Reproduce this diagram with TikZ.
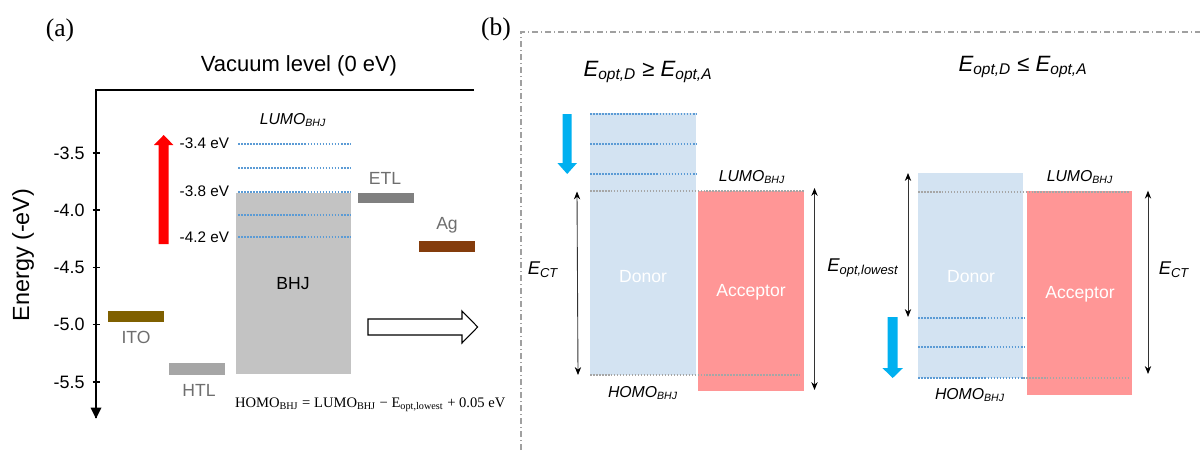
\documentclass[tikz,border=0pt]{standalone}
\usepackage{fontspec}
\setmainfont{Liberation Sans}
\newfontfamily\tnr{Liberation Serif}
\usetikzlibrary{arrows.meta}
\definecolor{lvlblue}{HTML}{5B9BD5}
\definecolor{lvlgrey}{HTML}{A6A6A6}
\definecolor{bhjgrey}{HTML}{C3C3C3}
\definecolor{etlgrey}{HTML}{808080}
\definecolor{htlgrey}{HTML}{A6A6A6}
\definecolor{agbrown}{HTML}{843C0C}
\definecolor{itoolive}{HTML}{7F6000}
\definecolor{cyanarr}{HTML}{00B0F0}
\definecolor{donorblue}{HTML}{D3E3F2}
\definecolor{accpink}{HTML}{FF9696}
\definecolor{labgrey}{HTML}{6E6E6E}
\definecolor{framegrey}{HTML}{A0A0A0}
\newcommand{\fsz}[1]{\fontsize{#1}{#1}\selectfont}
\newcommand{\sbs}[1]{\textsubscript{#1}}
\tikzset{
  bdot/.style={lvlblue, line width=1.14pt, dash pattern=on 1.0pt off 0.72pt},
  gdot/.style={lvlgrey, line width=0.9pt, dash pattern=on 0.9pt off 0.8pt},
  dbl/.style={black!80, line width=0.5pt, {Stealth[length=4.5pt,width=3.6pt,black]}-{Stealth[length=4.5pt,width=3.6pt,black]}},
  ticklab/.style={anchor=east, font=\fsz{10.2}},
  evlab/.style={anchor=east, font=\fsz{8.7}},
  layerlab/.style={text=labgrey, font=\fsz{10}},
  whitelab/.style={text=white, font=\fsz{10}},
  lumolab/.style={font=\fsz{9}\itshape},
  elab/.style={font=\fsz{10.5}\itshape},
  titlelab/.style={font=\fsz{12.6}\itshape},
}
\begin{document}
\begin{tikzpicture}[x=0.02cm,y=-0.02cm, every node/.style={inner sep=0pt,outer sep=0pt}]
\useasboundingbox (0,0) rectangle (1200,450);

% ---------------- panel (a) ----------------
\node[font=\tnr\fsz{14.5}] (la) at (60,30) {(a)};
\node[font=\fsz{12.5}] (vac) at (299,66) {Vacuum level (0 eV)};

% axes
\coordinate (axtop) at (96,90);
\coordinate (axright) at (474,90);
\coordinate (axbot) at (96,418);
\draw[line width=0.6pt] (axright) -- (axtop) -- (axbot);
\fill (90.5,407.5) -- (101.5,407.5) -- (96,418.5) -- cycle;
\foreach \yy/\lab in {153/-3.5,210/-4.0,267.5/-4.5,324.5/-5.0,382/-5.5}{
  \draw[line width=0.6pt] (92.5,\yy) -- (100,\yy);
  \node[ticklab] at (84.5,\yy) {\lab};
}
\node[rotate=90, font=\fsz{13.3}] (ylab) at (23,255) {Energy (-eV)};

% BHJ
\fill[bhjgrey] (236,193) rectangle (351,374);
\node[font=\fsz{10}] (bhj) at (293,284) {BHJ};
\foreach \yy in {144,168,192,215,237}{
  \draw[bdot] (238,\yy) -- (351,\yy);
}
\node[lumolab] (lumoa) at (293,120) {LUMO\sbs{BHJ}};
\node[evlab] (ev34) at (229,143) {-3.4 eV};
\node[evlab] (ev38) at (229,191) {-3.8 eV};
\node[evlab] (ev42) at (229,237) {-4.2 eV};

% red arrow
\fill[red] (158.7,244) -- (158.7,145) -- (154,145) -- (163.7,135) -- (173.4,145) -- (168.7,145) -- (168.7,244) -- cycle;

% layers
\fill[itoolive] (108,310.7) rectangle (164,321.7);
\node[layerlab] (ito) at (136,337) {ITO};
\fill[htlgrey] (169,362.7) rectangle (225,375);
\node[layerlab] (htl) at (199,390) {HTL};
\fill[etlgrey] (358,193) rectangle (414,203);
\node[layerlab] (etl) at (385,178) {ETL};
\fill[agbrown] (419,241) rectangle (475,252);
\node[layerlab] (ag) at (447,225) {Ag};

% formula
\node[anchor=west, font=\tnr\fsz{8.3}] (formula) at (235,405)
  {HOMO\sbs{BHJ} = LUMO\sbs{BHJ} − E\sbs{opt,lowest} + 0.05 eV};

% hollow arrow
\draw[fill=white, line width=0.6pt] (368,319) -- (462,319) -- (462,311) -- (477.7,327) -- (462,343) -- (462,335) -- (368,335) -- cycle;

% ---------------- panel (b) ----------------
\node[font=\tnr\fsz{14.5}] (lb) at (496,29) {(b)};
\draw[framegrey, line width=0.6pt, dash pattern=on 3.4pt off 1.7pt on 0.6pt off 1.7pt] (521,450) -- (521,32) -- (1200,32);

% left diagram
\node[titlelab] (t1) at (648,72) {E\sbs{opt,D} ≥ E\sbs{opt,A}};
\fill[donorblue] (590,113) rectangle (696,375);
\fill[accpink] (698,190.7) rectangle (804,390.7);
\foreach \yy in {114,144,174}{
  \draw[bdot] (590,\yy) -- (696,\yy);
}
\draw[gdot] (590,191) -- (804,191);
\draw[gdot] (590,375) -- (800,375);
\node[whitelab] (d1) at (643,277) {Donor};
\node[whitelab] (a1) at (751,292) {Acceptor};
\node[lumolab] (lumo1) at (752,177) {LUMO\sbs{BHJ}};
\node[lumolab] (homo1) at (643,393) {HOMO\sbs{BHJ}};
\fill[cyanarr] (562.7,114) -- (571.7,114) -- (571.7,163) -- (577,163) -- (567.2,174) -- (557.4,163) -- (562.7,163) -- cycle;
\coordinate (e1t) at (577,191.5);
\coordinate (e1b) at (578,375);
\draw[dbl] (e1t) -- (e1b);
\node[elab] (ect1) at (543,270) {E\sbs{CT}};
\coordinate (e2t) at (814.5,188);
\coordinate (e2b) at (814.5,390);
\draw[dbl] (e2t) -- (e2b);
\node[elab] (eopt) at (863,268) {E\sbs{opt,lowest}};

% right diagram
\node[titlelab] (t2) at (1023,67) {E\sbs{opt,D} ≤ E\sbs{opt,A}};
\fill[donorblue] (918,173) rectangle (1023,378);
\fill[accpink] (1027,191) rectangle (1132,395);
\draw[gdot] (918,192) -- (1130,192);
\draw[gdot] (1023,378) -- (1130,378);
\foreach \yy in {318,347,378}{
  \draw[bdot] (918,\yy) -- (1025,\yy);
}
\node[whitelab] (d2) at (971,277) {Donor};
\node[whitelab] (a2) at (1080,294) {Acceptor};
\node[lumolab] (lumo2) at (1080,177) {LUMO\sbs{BHJ}};
\node[lumolab] (homo2) at (970,395) {HOMO\sbs{BHJ}};
\fill[cyanarr] (887.7,317) -- (897.7,317) -- (897.7,368) -- (903,368) -- (892.7,378) -- (882.4,368) -- (887.7,368) -- cycle;
\coordinate (e3t) at (908,173);
\coordinate (e3b) at (908,317);
\draw[dbl] (e3t) -- (e3b);
\coordinate (e4t) at (1148,190.7);
\coordinate (e4b) at (1148,374);
\draw[dbl] (e4t) -- (e4b);
\node[elab] (ect2) at (1174,270) {E\sbs{CT}};
\end{tikzpicture}
\end{document}
